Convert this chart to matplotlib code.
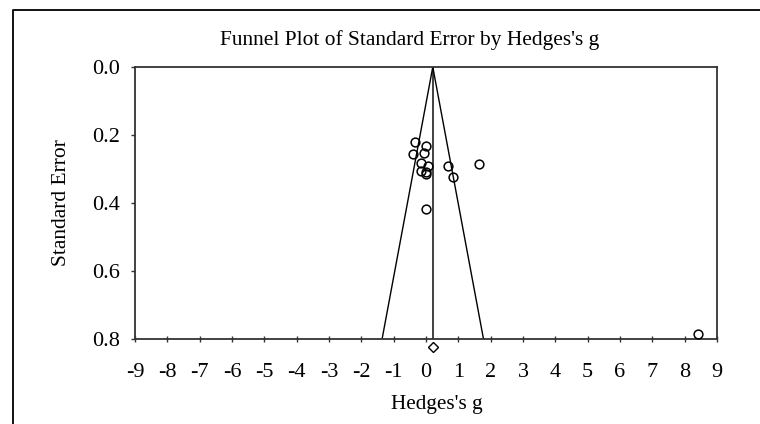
import matplotlib
matplotlib.use("Agg")
import matplotlib.pyplot as plt
from matplotlib.lines import Line2D

# study effects
hedges_g = [-0.34, 0.01, -0.41, -0.07, -0.16, 0.07, -0.14, 0.01, 0.0,
            0.68, 0.82, 1.64, 0.0, 8.42]
std_err = [0.221, 0.232, 0.255, 0.252, 0.281, 0.291, 0.305, 0.308, 0.316,
           0.290, 0.323, 0.285, 0.418, 0.785]

# pooled estimate and funnel depth
pooled_g = 0.21
se_max = 0.8
x_ticks = list(range(-9, 10))
y_ticks = [0.0, 0.2, 0.4, 0.6, 0.8]
y_labels = ["0.0", "0.2", "0.4", "0.6", "0.8"]

plt.rcParams['font.family'] = ['Liberation Serif', 'DejaVu Serif']

fig = plt.figure(figsize=(7.6, 4.24), dpi=100)
ax = fig.add_axes([135 / 760, 1 - 339 / 424, 582 / 760, 272 / 424])

# funnel: pooled line plus 95% limits
ax.plot([pooled_g, pooled_g], [0, se_max], color='#333333', lw=1.3)
ax.plot([pooled_g, pooled_g - 1.96 * se_max], [0, se_max], color='black', lw=1.0)
ax.plot([pooled_g, pooled_g + 1.96 * se_max], [0, se_max], color='black', lw=1.0)

ax.plot(hedges_g, std_err, linestyle='none', marker='o', markersize=6.3,
        markerfacecolor='none', markeredgecolor='black', markeredgewidth=1.1,
        clip_on=False, zorder=3)

# pooled diamond under the axis
ax.plot([pooled_g], [se_max * 1.03], linestyle='none', marker='D', markersize=5,
        markerfacecolor='none', markeredgecolor='black', markeredgewidth=1.0,
        clip_on=False, zorder=3)

ax.set_xlim(-9, 9)
ax.set_ylim(se_max, 0)
ax.set_xticks(x_ticks)
ax.set_xticklabels([str(t) for t in x_ticks])
ax.set_yticks(y_ticks)
ax.set_yticklabels(y_labels)

for s in ax.spines.values():
    s.set_color('#333333')
    s.set_linewidth(1.3)

ax.tick_params(axis='x', direction='inout', length=5, width=1, color='#333333',
               labelsize=16, pad=15)
ax.tick_params(axis='y', direction='out', length=3, width=1, color='#333333',
               labelsize=16, pad=8)

ax.set_xlabel("Hedges's g", fontsize=15.3, va='center')
ax.xaxis.set_label_coords((437 - 135) / 582, (339 - 405) / 272)
ax.set_ylabel("Standard Error", fontsize=15.5, va='center')
ax.yaxis.set_label_coords((61 - 135) / 582, 0.5)

fig.text(409.6 / 760, 1 - 40 / 424, "Funnel Plot of Standard Error by Hedges's g",
         ha='center', va='center', fontsize=15.4)

# outer frame, only left and top edges are visible in the image
fig.add_artist(Line2D([13 / 760, 13 / 760, 1.0], [0.0, 1 - 10 / 424, 1 - 10 / 424],
                      transform=fig.transFigure, color='black', lw=1.3))

fig.savefig("out.png", dpi=100)
